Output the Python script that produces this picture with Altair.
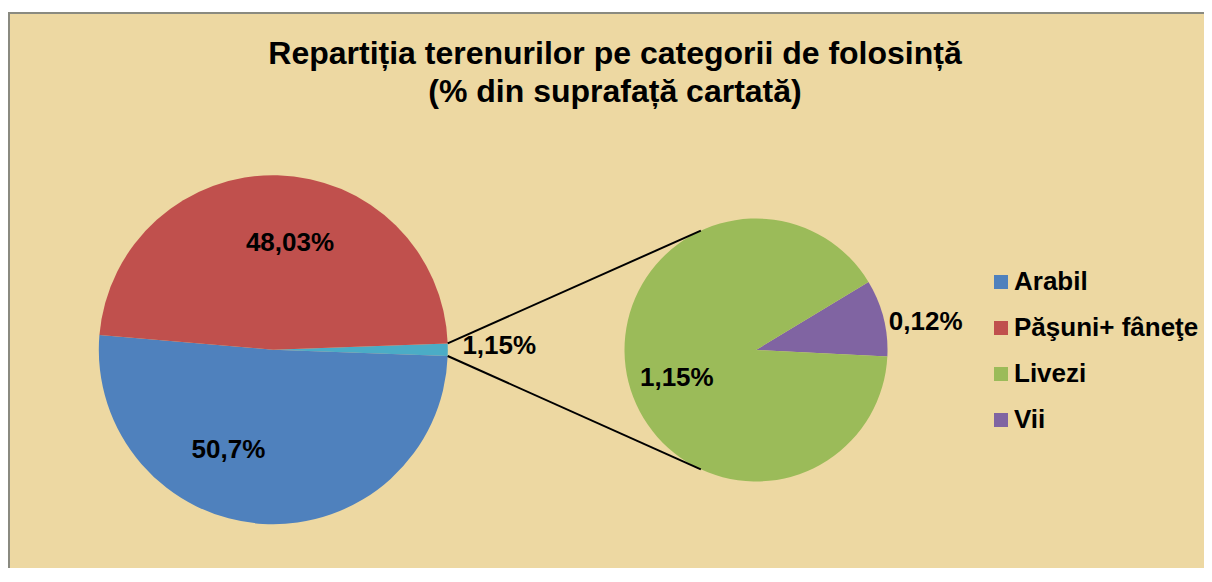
import math
import altair as alt
import pandas as pd

# ---- data ----
main_cats = ["Livezi+Vii", "Arabil", "Păşuni+ fâneţe"]
main_vals = [1.15, 50.7, 48.03]

sec_cats = ["Vii", "Livezi"]
sec_vals = [0.12, 1.15]

legend_cats = ["Arabil", "Păşuni+ fâneţe", "Livezi", "Vii"]
all_cats = ["Arabil", "Păşuni+ fâneţe", "Livezi", "Vii", "Livezi+Vii"]
all_colors = ["#4F81BD", "#C0504D", "#9BBB59", "#8064A2", "#4BACC6"]

title_lines = ["Repartiția terenurilor pe categorii de folosință", "(% din suprafață cartată)"]

# ---- layout (pixels) ----
W, H = 1196, 560
FONT = "Liberation Sans"
L_CX, L_CY, L_R = 265.3, 341.7, 174.5
R_CX, R_CY, R_R = 748.0, 342.0, 131.5

tot_main = sum(main_vals)
main_start = 90 - 0.5 * main_vals[0] / tot_main * 360
main_end_other = main_start + main_vals[0] / tot_main * 360
sec_start = 58.8


def pt(cx, cy, r, deg):
    a = math.radians(deg)
    return cx + r * math.sin(a), cy - r * math.cos(a)


main_df = pd.DataFrame({"cat": main_cats, "val": main_vals, "ord": [0, 1, 2]})
sec_df = pd.DataFrame({"cat": sec_cats, "val": sec_vals, "ord": [0, 1]})

color = alt.Color(
    "cat:N",
    scale=alt.Scale(domain=all_cats, range=all_colors),
    legend=alt.Legend(
        values=legend_cats, title=None, orient="none", legendX=980, legendY=261,
        symbolType="square", symbolSize=196, symbolStrokeWidth=0,
        labelFont=FONT, labelFontSize=26, labelFontWeight="bold", labelColor="#000000",
        rowPadding=20, labelOffset=0, padding=0, labelLimit=400,
    ),
)

main_pie = alt.Chart(main_df).mark_arc(radius=L_R, stroke=None).encode(
    theta=alt.Theta("val:Q", stack=True,
                    scale=alt.Scale(range=[math.radians(main_start), math.radians(main_start) + 2 * math.pi])),
    order=alt.Order("ord:Q"),
    color=color,
    x=alt.value(L_CX), y=alt.value(L_CY),
)

sec_pie = alt.Chart(sec_df).mark_arc(radius=R_R, stroke=None).encode(
    theta=alt.Theta("val:Q", stack=True,
                    scale=alt.Scale(range=[math.radians(sec_start), math.radians(sec_start) + 2 * math.pi])),
    order=alt.Order("ord:Q"),
    color=color,
    x=alt.value(R_CX), y=alt.value(R_CY),
)

# connector lines between the "other" slice and the secondary pie
p1 = pt(L_CX, L_CY, L_R, main_start)
p2 = pt(L_CX, L_CY, L_R, main_end_other)
q1 = pt(R_CX, R_CY, R_R, 335.2)
q2 = pt(R_CX, R_CY, R_R, 204.8)
conn_df = pd.DataFrame({
    "x": [p1[0], p2[0]], "y": [p1[1], p2[1]],
    "x2": [q1[0], q2[0]], "y2": [q1[1], q2[1]],
})
connectors = alt.Chart(conn_df).mark_rule(color="#000000", strokeWidth=2).encode(
    x=alt.X("x:Q", scale=None), y=alt.Y("y:Q", scale=None),
    x2="x2:Q", y2="y2:Q",
)

# data labels (angle / radius from each pie's centre)
lab_text = ["48,03%", "50,7%", "1,15%", "1,15%", "0,12%"]
lab_pie = ["L", "L", "L", "R", "R"]
lab_ang = [8.9, 204.1, 89.0, 250.5, 80.6]
lab_rad = [108, 110, 226, 84, 172]
lx, ly = [], []
for p, a, r in zip(lab_pie, lab_ang, lab_rad):
    cx, cy = (L_CX, L_CY) if p == "L" else (R_CX, R_CY)
    X, Y = pt(cx, cy, r, a)
    lx.append(X)
    ly.append(Y)
lab_df = pd.DataFrame({"t": lab_text, "x": lx, "y": ly})
labels = alt.Chart(lab_df).mark_text(
    font=FONT, fontSize=26, fontWeight="bold", color="#000000", align="center", baseline="middle"
).encode(x=alt.X("x:Q", scale=None), y=alt.Y("y:Q", scale=None), text="t:N")

# background frame (fill + top/left borders)
one = pd.DataFrame({"a": [0]})
frame = alt.Chart(one).mark_rect(fill="#EDD8A2", stroke=None).encode(
    x=alt.value(0), x2=alt.value(W + 40), y=alt.value(5), y2=alt.value(H + 40)
)
border_top = alt.Chart(one).mark_rule(color="#8A8A80", strokeWidth=2).encode(
    x=alt.value(0), x2=alt.value(W + 40), y=alt.value(5)
)
border_left = alt.Chart(one).mark_rule(color="#8A8A80", strokeWidth=2).encode(
    x=alt.value(1), y=alt.value(5), y2=alt.value(H + 40)
)

title = alt.Chart(one).mark_text(
    text=title_lines, font=FONT, fontSize=32, fontWeight="bold", color="#000000",
    align="center", baseline="middle", lineHeight=38
).encode(x=alt.value(607), y=alt.value(46))

chart = alt.layer(frame, border_top, border_left, title, main_pie, sec_pie, connectors, labels).resolve_scale(
    theta="independent"
).properties(
    width=W, height=H, padding=0, autosize=alt.AutoSizeParams(type="none"),
    background="#FFFFFF",
).configure_view(strokeWidth=0, strokeOpacity=0)

chart.save("out.html", embed_options={"renderer": "svg", "actions": False})
